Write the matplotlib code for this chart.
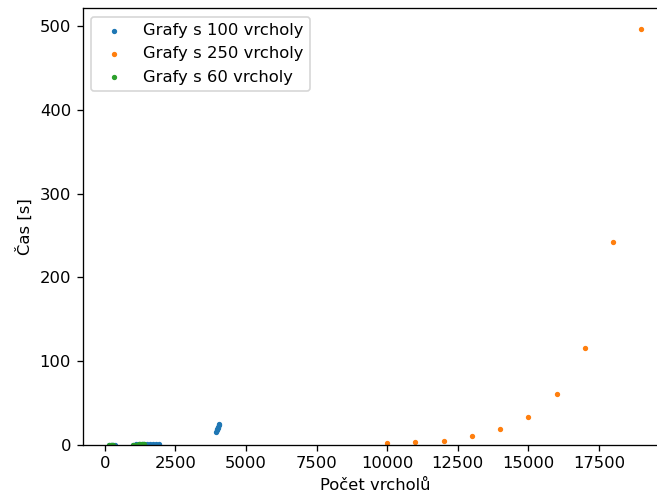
import matplotlib
matplotlib.use("Agg")
import matplotlib.pyplot as plt

# namerene casy (pocet vrcholu / hran vs. cas v sekundach)
x100 = [150, 200, 250, 300, 350,
        1000, 1100, 1200, 1300, 1400, 1500, 1600, 1700, 1800, 1900,
        3950, 3965, 3980, 3995, 4010, 4025, 4040]
y100 = [0.1, 0.2, 0.2, 0.3, 0.4,
        0.5, 0.6, 0.6, 0.7, 0.8, 0.8, 0.9, 1.0, 1.0, 1.1,
        16.0, 17.5, 19.0, 20.5, 22.0, 23.5, 25.0]

x250 = [10000, 11000, 12000, 13000, 14000, 15000, 16000, 17000, 18000, 19000]
y250 = [2.0, 3.6, 5.2, 10.4, 19.2, 33.2, 61.1, 115.8, 242.4, 496.0]

x60 = [150, 200, 250, 300,
       1000, 1050, 1100, 1150, 1200, 1250, 1300, 1350, 1400]
y60 = [0.1, 0.1, 0.2, 0.2,
       0.4, 0.4, 0.5, 0.5, 0.6, 0.6, 0.7, 0.7, 0.8]

fig = plt.figure(figsize=(657 / 118, 498 / 118), dpi=118)
ax = fig.add_axes([82.5 / 657, 53 / 498, 585.5 / 657, 436.5 / 498])

ax.scatter(x100, y100, s=5, label="Grafy s 100 vrcholy")
ax.scatter(x250, y250, s=5, label="Grafy s 250 vrcholy")
ax.scatter(x60, y60, s=5, label="Grafy s 60 vrcholy")

ax.set_ylim(bottom=0)
ax.set_xlabel("Počet vrcholů")
ax.set_ylabel("Čas [s]")
ax.legend(loc="upper left")

fig.savefig("out.png", dpi=118)
